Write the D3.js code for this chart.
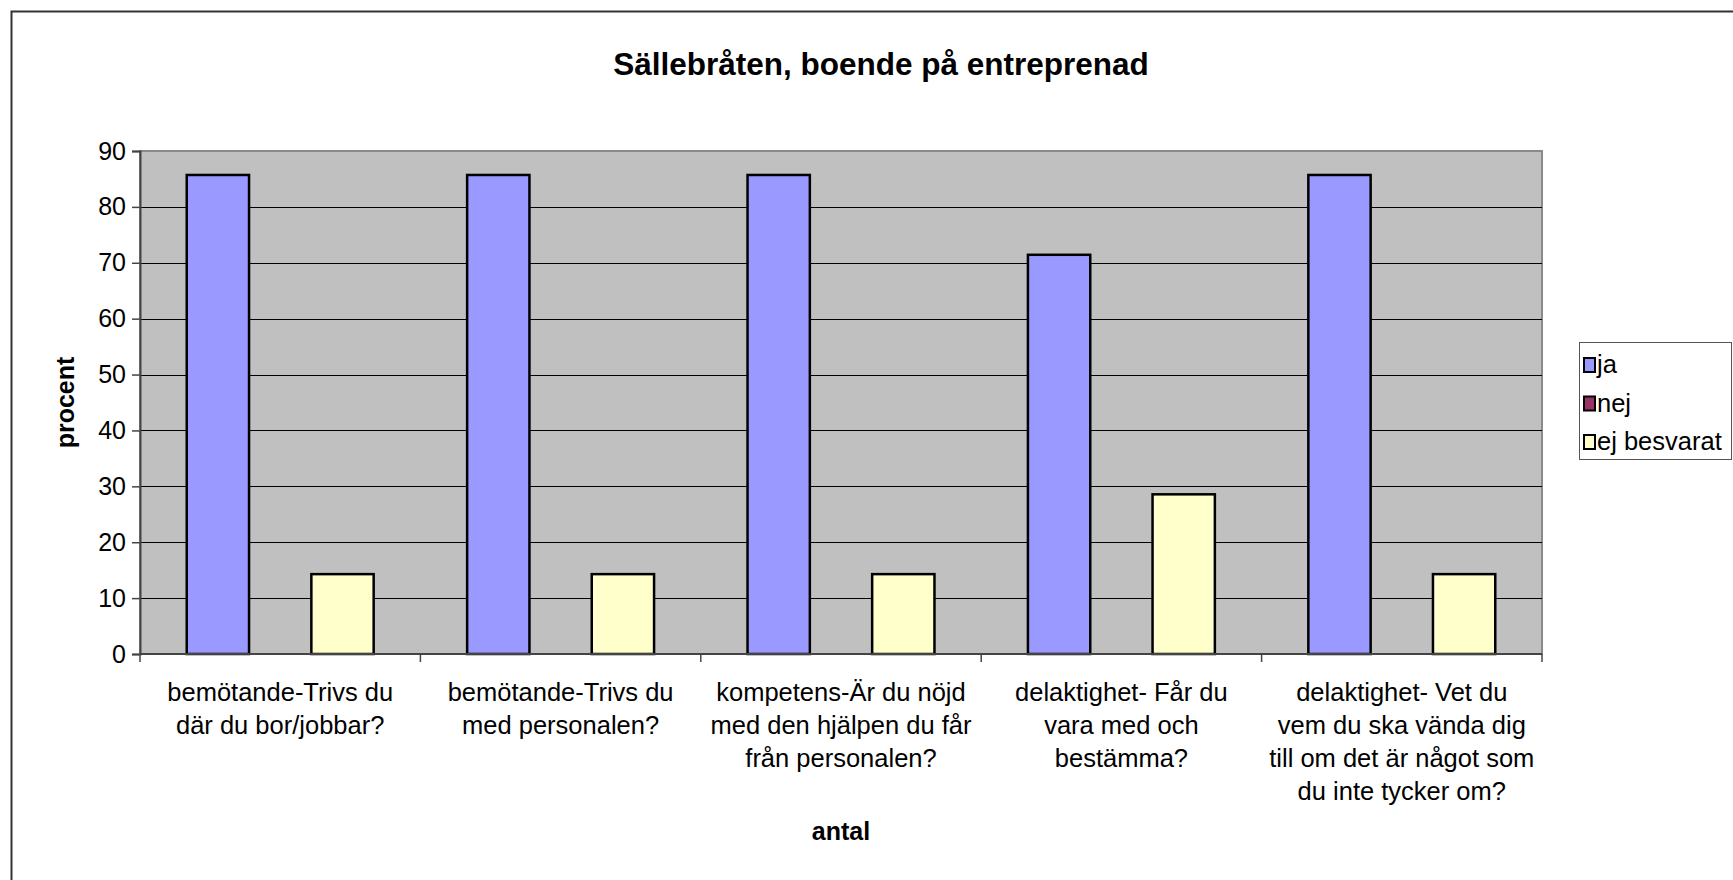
<!DOCTYPE html>
<html>
<head>
<meta charset="utf-8">
<script src="https://cdn.jsdelivr.net/npm/d3@7"></script>
<style>
  html, body { margin: 0; padding: 0; background: #fff; overflow: hidden; }
  text { font-family: "Liberation Sans", Arial, sans-serif; fill: #000; }
</style>
</head>
<body>
<div id="chart"></div>
<script>
// data
const categories = [
  ["bemötande-Trivs du", "där du bor/jobbar?"],
  ["bemötande-Trivs du", "med personalen?"],
  ["kompetens-Är du nöjd", "med den hjälpen du får", "från personalen?"],
  ["delaktighet- Får du", "vara med och", "bestämma?"],
  ["delaktighet- Vet du", "vem du ska vända dig", "till om det är något som", "du inte tycker om?"]
];
const seriesNames = ["ja", "nej", "ej besvarat"];
const jaValues = [85.71, 85.71, 85.71, 71.43, 85.71];
const nejValues = [0, 0, 0, 0, 0];
const ejValues = [14.29, 14.29, 14.29, 28.57, 14.29];
const seriesColors = ["#9999FF", "#993366", "#FFFFCC"];
const yTicks = [0, 10, 20, 30, 40, 50, 60, 70, 80, 90];

const width = 1733, height = 880;
const plot = { left: 140, right: 1542, top: 151, bottom: 654 };

const svg = d3.select("#chart").append("svg")
  .attr("width", width)
  .attr("height", height);

// outer chart border (runs off the page at right and bottom)
svg.append("rect")
  .attr("x", 11.5).attr("y", 11.5)
  .attr("width", 1800).attr("height", 1000)
  .attr("fill", "#fff")
  .attr("stroke", "#333").attr("stroke-width", 2);

svg.append("text")
  .attr("x", 881).attr("y", 75)
  .attr("text-anchor", "middle")
  .style("font-size", "31.5px").style("font-weight", "bold")
  .text("Sällebråten, boende på entreprenad");

const x0 = d3.scaleBand()
  .domain(d3.range(categories.length))
  .range([plot.left, plot.right]);

const x1 = d3.scaleBand()
  .domain(d3.range(seriesNames.length))
  .range([0, x0.bandwidth()])
  .paddingOuter(0.75)
  .paddingInner(0);

const y = d3.scaleLinear().domain([0, 90]).range([plot.bottom, plot.top]);

// plot background
svg.append("rect")
  .attr("x", plot.left).attr("y", plot.top)
  .attr("width", plot.right - plot.left).attr("height", plot.bottom - plot.top)
  .attr("fill", "#C0C0C0")
  .attr("stroke", "#8a8a8a").attr("stroke-width", 2);

// gridlines
svg.append("g")
  .selectAll("line")
  .data(yTicks.filter(t => t > 0 && t < 90))
  .join("line")
    .attr("x1", plot.left).attr("x2", plot.right)
    .attr("y1", d => Math.round(y(d)) + 0.5).attr("y2", d => Math.round(y(d)) + 0.5)
    .attr("stroke", "#000").attr("stroke-width", 1);

// bars
const seriesData = [jaValues, nejValues, ejValues];
const groups = svg.append("g")
  .selectAll("g")
  .data(categories.map((c, i) => i))
  .join("g")
    .attr("transform", i => `translate(${x0(i)},0)`);

groups.selectAll("rect")
  .data(i => seriesData.map((vals, s) => ({ s, v: vals[i] })))
  .join("rect")
    .attr("x", d => x1(d.s))
    .attr("y", d => y(d.v))
    .attr("width", x1.bandwidth())
    .attr("height", d => y(0) - y(d.v))
    .attr("fill", d => seriesColors[d.s])
    .attr("stroke", d => d.v > 0 ? "#000" : "none")
    .attr("stroke-width", 2.5);

// y axis
const yAxis = svg.append("g")
  .attr("transform", `translate(${plot.left},0)`)
  .call(d3.axisLeft(y).tickValues(yTicks).tickSize(8).tickPadding(6));
yAxis.select(".domain").attr("stroke", "#444").attr("stroke-width", 2);
yAxis.selectAll(".tick line").attr("stroke", "#444").attr("stroke-width", 1.5);
yAxis.selectAll(".tick text")
  .style("font-size", "25px")
  .style("font-family", "'Liberation Sans', Arial, sans-serif")
  .attr("fill", "#000");

// x axis line and category boundary ticks
const xAxis = svg.append("g");
xAxis.append("line")
  .attr("x1", plot.left).attr("x2", plot.right)
  .attr("y1", plot.bottom).attr("y2", plot.bottom)
  .attr("stroke", "#444").attr("stroke-width", 2);
xAxis.selectAll("line.tick")
  .data(d3.range(categories.length + 1))
  .join("line")
    .attr("class", "tick")
    .attr("x1", i => i < categories.length ? x0(i) : plot.right)
    .attr("x2", i => i < categories.length ? x0(i) : plot.right)
    .attr("y1", plot.bottom).attr("y2", plot.bottom + 8)
    .attr("stroke", "#444").attr("stroke-width", 1.5);

// category labels
const catLabels = svg.append("g")
  .selectAll("text")
  .data(categories)
  .join("text")
    .attr("x", (d, i) => x0(i) + x0.bandwidth() / 2)
    .attr("y", 701)
    .attr("text-anchor", "middle")
    .style("font-size", "25.5px");
catLabels.selectAll("tspan")
  .data(d => d)
  .join("tspan")
    .attr("x", function() { return this.parentNode.getAttribute("x"); })
    .attr("dy", (d, i) => i === 0 ? 0 : 33)
    .text(d => d);

// axis titles
svg.append("text")
  .attr("x", (plot.left + plot.right) / 2).attr("y", 840)
  .attr("text-anchor", "middle")
  .style("font-size", "25px").style("font-weight", "bold")
  .text("antal");

svg.append("text")
  .attr("transform", `translate(74,${(plot.top + plot.bottom) / 2}) rotate(-90)`)
  .attr("text-anchor", "middle")
  .style("font-size", "25px").style("font-weight", "bold")
  .text("procent");

// legend
const legend = svg.append("g");
legend.append("rect")
  .attr("x", 1579.5).attr("y", 342.5)
  .attr("width", 152).attr("height", 117)
  .attr("fill", "#fff")
  .attr("stroke", "#555").attr("stroke-width", 1);
const items = legend.selectAll("g")
  .data(seriesNames)
  .join("g")
    .attr("transform", (d, i) => `translate(0,${373 + i * 38.5})`);
items.append("rect")
  .attr("x", 1584).attr("y", -15)
  .attr("width", 11).attr("height", 14)
  .attr("fill", (d, i) => seriesColors[i])
  .attr("stroke", "#000").attr("stroke-width", 2);
items.append("text")
  .attr("x", 1597).attr("y", 0)
  .style("font-size", "25.5px")
  .text(d => d);
</script>
</body>
</html>
